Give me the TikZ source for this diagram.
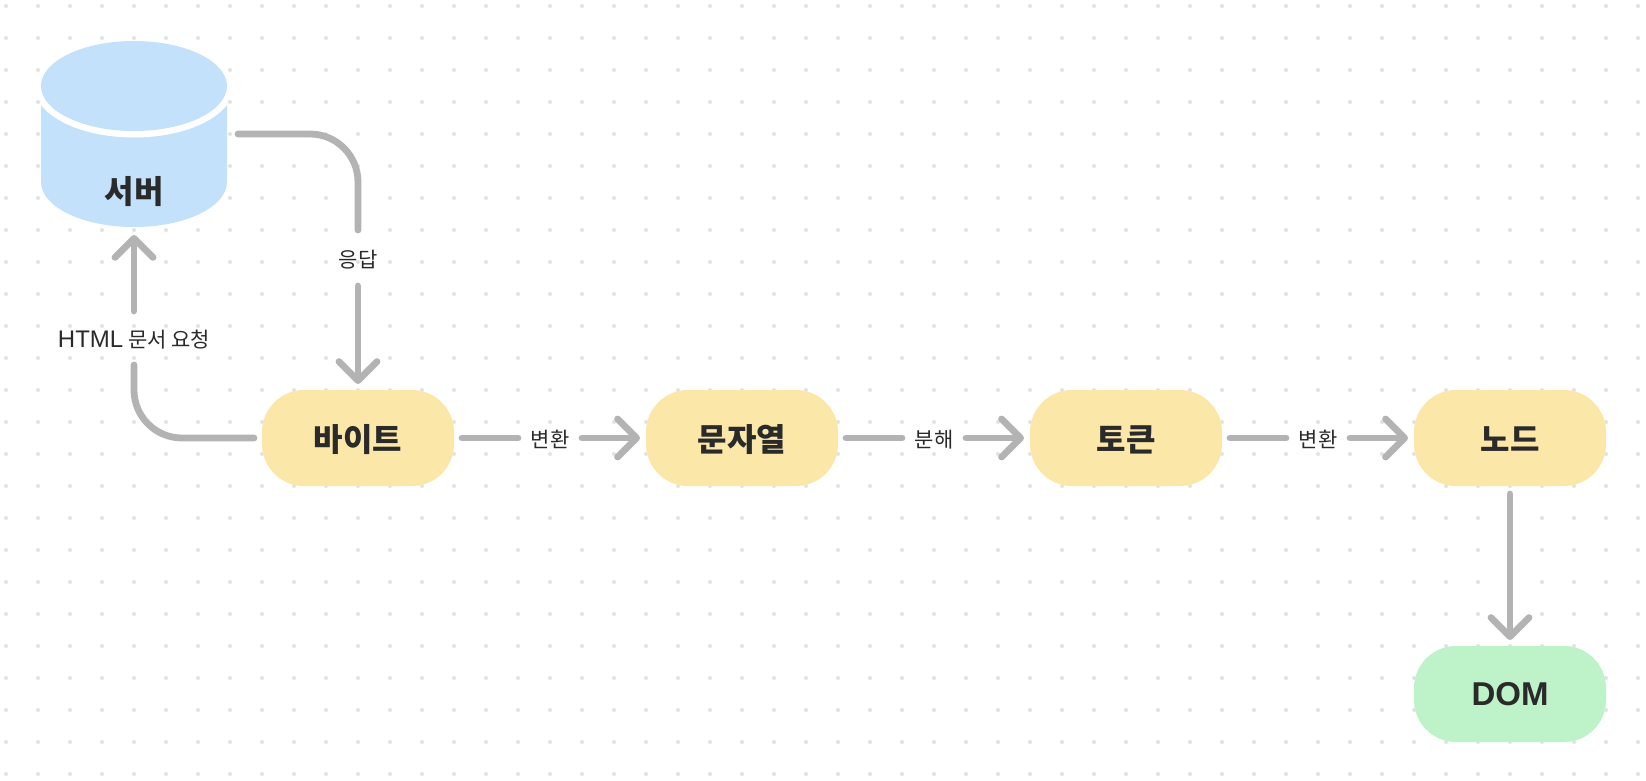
\documentclass[tikz,border=0pt]{standalone}
\usepackage{fontspec}
\setmainfont{Noto Sans CJK KR}
\newfontfamily\latinface{Liberation Sans}
\usetikzlibrary{arrows.meta}
\definecolor{linegray}{HTML}{B3B3B3}
\definecolor{dotgray}{HTML}{E2E2E2}
\definecolor{serverblue}{HTML}{C4E1FC}
\definecolor{stepyellow}{HTML}{FBE8A9}
\definecolor{domgreen}{HTML}{BEF2C9}
\definecolor{inkdark}{HTML}{2A2A2A}
\newcommand{\bigdrop}[1]{\raisebox{-13pt}[0pt][0pt]{#1}}
\newcommand{\smalldrop}[1]{\raisebox{-9.5pt}[0pt][0pt]{#1}}
\tikzset{
  x=1pt,y=-1pt,
  conn/.style={draw=linegray,line width=6.8pt,line cap=round,line join=round},
  arrowconn/.style={conn,-{Straight Barb[length=19pt,width=38pt,round,line width=6.8pt]}},
  stagebox/.style={minimum width=192pt,minimum height=96pt,rounded corners=42pt,inner sep=0pt,outer sep=0pt,font=\fontsize{32}{36}\selectfont\bfseries,text=inkdark},
  yellowbox/.style={stagebox,fill=stepyellow},
  greenbox/.style={stagebox,fill=domgreen},
  edgelabel/.style={inner sep=0pt,outer sep=0pt,font=\fontsize{21}{25}\selectfont,text=inkdark},
  hlabel/.style={edgelabel,minimum width=64pt,minimum height=24pt},
}
\begin{document}
\begin{tikzpicture}
\useasboundingbox (0,0) rectangle (1646,780);
\fill[white] (0,0) rectangle (1646,780);
% dotted background
\foreach \i in {0,...,51}{
  \foreach \j in {0,...,24}{
    \fill[dotgray] ({6+32*\i},{6+32*\j}) circle[radius=2pt];
  }
}
% cylinder
\fill[serverblue] (41,86) -- (41,182) arc[start angle=180,end angle=0,x radius=93pt,y radius=-45pt] -- (227,86) -- cycle;
\begin{scope}
  \clip (41,86) -- (41,182) arc[start angle=180,end angle=0,x radius=93pt,y radius=-45pt] -- (227,86) -- cycle;
  \fill[white] (134,86) ellipse[x radius=100pt,y radius=51.5pt];
\end{scope}
\fill[serverblue] (134,86) ellipse[x radius=93pt,y radius=45pt];
\node[minimum width=186pt,minimum height=186pt,inner sep=0pt,outer sep=0pt] (server) at (134,134) {};
\node[font=\fontsize{32}{36}\selectfont\bfseries,text=inkdark,inner sep=0pt] (servertext) at (134,190) {\bigdrop{서버}};
% stage nodes
\node[yellowbox] (byte) at (358,438) {\bigdrop{바이트}};
\node[yellowbox] (string) at (742,438) {\bigdrop{문자열}};
\node[yellowbox] (token) at (1126,438) {\bigdrop{토큰}};
\node[yellowbox] (tnode) at (1510,438) {\bigdrop{노드}};
\node[greenbox] (dom) at (1510,694) {\latinface\bfseries\fontsize{33}{36}\selectfont DOM};
% labels
\node[edgelabel,minimum height=54pt] (req) at (134,338) {\smalldrop{{\latinface\fontsize{24}{25}\selectfont HTML} 문서 요청}};
\node[edgelabel,minimum height=56pt] (resp) at (358,258) {\smalldrop{응답}};
\node[hlabel] (l1) at (550,438) {\smalldrop{변환}};
\node[hlabel] (l2) at (934,438) {\smalldrop{분해}};
\node[hlabel] (l3) at (1318,438) {\smalldrop{변환}};
% connectors
\draw[conn,rounded corners=48pt,shorten <=8pt] (byte.west) -| (req.south);
\draw[arrowconn,shorten >=8pt] (req.north) -- (server.south);
\draw[conn,rounded corners=48pt,shorten <=11pt] (server.east) -| (resp.north);
\draw[arrowconn,shorten >=6pt] (resp.south) -- (byte.north);
\draw[conn,shorten <=8pt] (byte.east) -- (l1.west);
\draw[arrowconn,shorten >=6pt] (l1.east) -- (string.west);
\draw[conn,shorten <=8pt] (string.east) -- (l2.west);
\draw[arrowconn,shorten >=6pt] (l2.east) -- (token.west);
\draw[conn,shorten <=8pt] (token.east) -- (l3.west);
\draw[arrowconn,shorten >=6pt] (l3.east) -- (tnode.west);
\draw[arrowconn,shorten <=8pt,shorten >=6pt] (tnode.south) -- (dom.north);
\end{tikzpicture}
\end{document}
